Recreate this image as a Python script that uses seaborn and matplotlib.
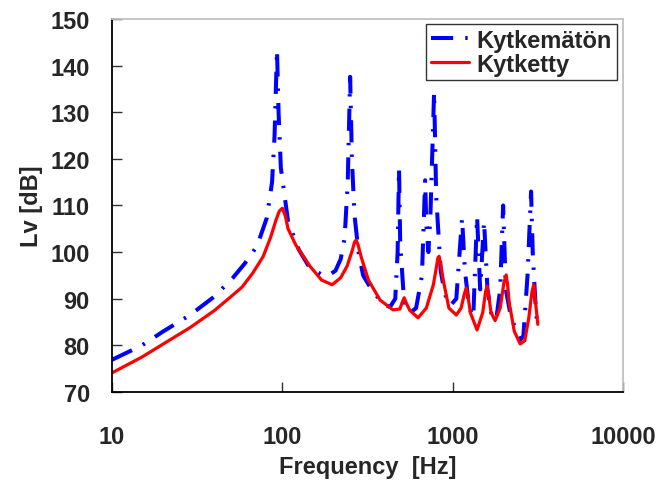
# -*- coding: utf-8 -*-
"""Vibration level Lv vs frequency, uncoupled vs coupled"""
import matplotlib as mpl
mpl.use('Agg')
import matplotlib.pyplot as plt
import seaborn as sns
import pandas as pd

# uncoupled response (Kytkemätön)
freq_a = [10, 15, 20, 28.7, 40, 51, 60, 71, 81, 87, 90, 93, 95, 98, 108, 125,
          145, 170, 185, 205, 220, 232, 242, 250, 256, 265, 280, 298, 340, 390,
          428, 460, 475, 484, 492, 520, 563, 610, 660, 689, 700, 720, 740, 778,
          800, 850, 900, 966, 1050, 1135, 1180, 1250, 1320, 1390, 1450, 1528,
          1600, 1700, 1800, 1900, 1977, 2050, 2200, 2420, 2488, 2600, 2750,
          2885, 2950, 3050, 3130]
lv_a = [76.9, 80.0, 83.0, 86.5, 90.5, 94.4, 97.5, 101.3, 107.3, 115, 125, 143.4,
        130, 118, 106.6, 100.5, 96.6, 95.2, 94.9, 96, 98.5, 103, 115, 137.6,
        120, 108, 100, 95, 91.5, 89, 88.2, 90, 100, 118, 102, 88.5, 87, 88, 95,
        115.4, 106, 100, 108, 134.4, 112, 96, 91, 88.5, 90, 107.3, 96, 88,
        86, 107.7, 92, 106.6, 92, 86, 85.5, 92, 110, 92, 86, 82.3, 81.2, 82,
        95, 113, 100, 90, 84.5]

# coupled response (Kytketty)
freq_b = [10, 15, 20, 28.7, 40, 49, 58, 67, 77, 85, 92, 96, 100, 104, 108, 120,
          145, 170, 196, 220, 240, 258, 265, 271, 278, 290, 320, 375, 447, 490,
          505, 519, 535, 560, 626, 700, 770, 800, 818, 832, 850, 880, 950, 1050,
          1120, 1170, 1200, 1230, 1270, 1390, 1500, 1560, 1593, 1630, 1680,
          1775, 1900, 2000, 2061, 2100, 2150, 2300, 2490, 2650, 2800, 2920,
          2990, 3050, 3160]
lv_b = [74.1, 77.5, 80.3, 83.8, 87.5, 90.2, 92.5, 95.5, 99, 103, 107, 108.8,
        109.4, 107.8, 105, 101.5, 97, 94, 93, 94.5, 97, 100.5, 102.1, 102.6,
        101.6, 99, 94, 89.7, 87.6, 87.8, 89.2, 90.2, 89, 87.5, 85.9, 88, 93,
        96.5, 98.7, 99.1, 97.5, 94, 88, 86.5, 88, 91, 92.3, 90.5, 87, 83.3,
        87, 91.5, 92.7, 90.5, 87, 85.3, 88, 93.5, 95.1, 93, 89, 83, 80.3, 81,
        86, 91.5, 93, 90, 84.5]

names = ['Kytkemätön', 'Kytketty']
yticks = [70, 80, 90, 100, 110, 120, 130, 140, 150]
xticks = [10, 100, 1000, 10000]

df_a = pd.DataFrame({'Frequency': freq_a, 'Lv': lv_a})
df_b = pd.DataFrame({'Frequency': freq_b, 'Lv': lv_b})

sns.set_style('ticks')
plt.rcParams['font.family'] = ['Liberation Sans', 'DejaVu Sans']
plt.rcParams['font.weight'] = 'bold'
plt.rcParams['font.size'] = 17

fig = plt.figure(figsize=(6.57, 4.81), dpi=100)
ax = fig.add_axes([0.1705, 0.183, 0.7778, 0.7755])

sns.lineplot(data=df_a, x='Frequency', y='Lv', color='#0000ff', linewidth=2.9,
             linestyle=(0, (5.5, 3, 0.6, 3)), estimator=None, sort=False,
             label=names[0], ax=ax)
sns.lineplot(data=df_b, x='Frequency', y='Lv', color='#ff0000', linewidth=2.3,
             estimator=None, sort=False, label=names[1], ax=ax)

ax.set_xscale('log')
ax.set_xlim(10, 10000)
ax.set_ylim(70, 150)
ax.set_xticks(xticks)
ax.set_xticklabels([str(t) for t in xticks])
ax.set_yticks(yticks)
ax.minorticks_off()
ax.tick_params(direction='in', length=7, width=1, color='#303030')
ax.tick_params(axis='x', pad=24)
ax.tick_params(axis='y', pad=16)

for s in ['left', 'bottom']:
    ax.spines[s].set_color('black')
    ax.spines[s].set_linewidth(1.3)
for s in ['top', 'right']:
    ax.spines[s].set_color('#c0c0c0')
    ax.spines[s].set_linewidth(1.3)

ax.set_xlabel('Frequency  [Hz]', fontweight='bold')
ax.set_ylabel('Lv [dB]', fontweight='bold')
ax.xaxis.set_label_coords(0.5, -0.17)
ax.yaxis.set_label_coords(-0.136, 0.5)

leg = ax.legend(loc='upper right', bbox_to_anchor=(0.988, 0.987),
                borderaxespad=0, frameon=True, fancybox=False,
                handlelength=1.6, handletextpad=0.35, borderpad=0.2,
                labelspacing=0.05, prop={'weight': 'bold', 'size': 17})
leg.get_frame().set_edgecolor('black')
leg.get_frame().set_linewidth(1.0)

fig.savefig('out.png', dpi=100)
